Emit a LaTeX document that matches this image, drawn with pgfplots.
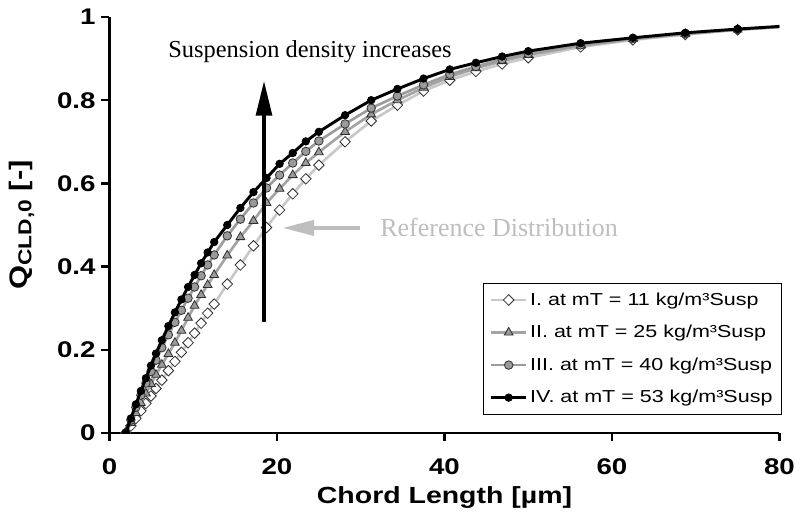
\documentclass[border=0pt]{standalone}
\usepackage{fontspec}
\setmainfont{Liberation Sans}
\newfontfamily\seriffont{Liberation Serif}
\newfontfamily\lblfont[FakeStretch=1.22]{Liberation Sans}
\newfontfamily\legfont[FakeStretch=1.24]{Liberation Sans}
\usepackage{pgfplots}
\usepackage{pgfplotstable}
\pgfplotsset{compat=1.18}
\usetikzlibrary{arrows.meta}

\definecolor{lineI}{HTML}{C8C8C8}
\definecolor{lineII}{HTML}{A4A4A4}
\definecolor{lineIII}{HTML}{9C9C9C}
\definecolor{markfill}{HTML}{9A9A9A}
\definecolor{markedge}{HTML}{303030}
\definecolor{refgray}{HTML}{BEBEBE}

\pgfplotstableread{
x      I      II     III    IV
1.95   0.000  0.000  0.000  0.000
2.55   0.017  0.024  0.031  0.035
3.15   0.035  0.048  0.062  0.069
3.75   0.053  0.072  0.091  0.101
4.35   0.071  0.095  0.120  0.132
4.95   0.089  0.118  0.148  0.162
5.55   0.107  0.140  0.175  0.191
6.25   0.127  0.164  0.205  0.223
7.03   0.150  0.190  0.236  0.257
7.81   0.172  0.217  0.266  0.290
8.59   0.194  0.246  0.295  0.321
9.38   0.217  0.277  0.324  0.351
10.16  0.240  0.306  0.351  0.380
10.94  0.264  0.332  0.378  0.408
11.72  0.288  0.356  0.404  0.434
12.50  0.310  0.380  0.428  0.459
14.06  0.358  0.427  0.474  0.500
15.63  0.404  0.471  0.514  0.541
17.19  0.450  0.510  0.553  0.579
18.75  0.494  0.553  0.589  0.613
20.31  0.536  0.587  0.620  0.647
21.88  0.575  0.620  0.649  0.673
23.44  0.611  0.649  0.677  0.701
25.00  0.644  0.675  0.702  0.724
28.13  0.700  0.724  0.743  0.764
31.25  0.750  0.766  0.781  0.800
34.38  0.788  0.800  0.810  0.827
37.50  0.822  0.830  0.837  0.852
40.63  0.848  0.856  0.862  0.874
43.75  0.869  0.877  0.881  0.890
46.88  0.887  0.894  0.898  0.905
50.00  0.902  0.909  0.912  0.918
56.25  0.928  0.931  0.933  0.937
62.50  0.945  0.947  0.948  0.950
68.75  0.958  0.959  0.960  0.962
75.00  0.969  0.970  0.970  0.971
81.25  0.977  0.978  0.978  0.979
}\datatable

\begin{document}
\begin{tikzpicture}
\useasboundingbox (-82.125pt,-61.5pt) rectangle (514.125pt,324.75pt);
\begin{axis}[
  at={(0,0)}, anchor=south west,
  scale only axis,
  width=502.5pt, height=312pt,
  xmin=0, xmax=80, ymin=0, ymax=1,
  axis lines*=left,
  axis line style={line width=1.9pt, -},
  xtick={0,20,40,60,80},
  ytick={0,0.2,0.4,0.6,0.8,1},
  xticklabels={0,20,40,60,80},
  yticklabels={0,0.2,0.4,0.6,0.8,1},
  tick align=outside,
  major tick length=6pt,
  tick style={line width=1.9pt, black},
  tick label style={font=\lblfont\bfseries\fontsize{17}{20}\selectfont},
  xticklabel style={yshift=-10pt},
  yticklabel style={xshift=-1pt},
  xlabel={Chord Length [µm]},
  ylabel={Q\raisebox{-0.3ex}{\fontsize{14}{15}\selectfont CLD,0} [-]},
  xlabel style={font=\lblfont\bfseries\fontsize{17.5}{20}\selectfont,
    at={(axis description cs:0.5,-0.154)}, anchor=center},
  ylabel style={font=\lblfont\bfseries\fontsize{19}{22}\selectfont,
    at={(axis description cs:-0.131,0.5)}, anchor=center},
  clip marker paths=true,
  legend cell align=left,
  legend image code/.code={\draw[mark repeat=2,mark phase=2]
      plot coordinates {(0pt,0pt) (13pt,0pt) (26pt,0pt)};},
  legend style={at={(0.557,0.361)}, anchor=north west, draw=black, line width=0.8pt,
    font=\legfont\fontsize{13}{15}\selectfont, row sep=9.5pt, inner sep=5pt},
]
\addplot[color=lineI, line width=2pt, mark=square*, mark size=2.8pt,
  mark options={rotate=45, fill=white, draw=markedge, line width=0.6pt}]
  table[x=x, y=I] {\datatable};
\addlegendentry{I. at mT = 11 kg/m³Susp}
\addplot[color=lineII, line width=2pt, mark=triangle*, mark size=3.8pt,
  mark options={fill=markfill, draw=markedge, line width=0.6pt}]
  table[x=x, y=II] {\datatable};
\addlegendentry{II. at mT = 25 kg/m³Susp}
\addplot[color=lineIII, line width=2pt, mark=*, mark size=3.2pt,
  mark options={fill=markfill, draw=markedge, line width=0.6pt}]
  table[x=x, y=III] {\datatable};
\addlegendentry{III. at mT = 40 kg/m³Susp}
\addplot[color=black, line width=2.2pt, mark=*, mark size=2.8pt,
  mark options={fill=black, draw=black, line width=0.6pt}]
  table[x=x, y=IV] {\datatable};
\addlegendentry{IV. at mT = 53 kg/m³Susp}

\draw[black, line width=2.3pt, -{Triangle[length=26pt,width=12pt]}]
  (axis cs:18.45,0.267) -- (axis cs:18.45,0.846);
\draw[refgray, line width=3.5pt, -{Triangle[length=24pt,width=11pt]}]
  (axis cs:29.9,0.493) -- (axis cs:20.6,0.493);
\node[font=\seriffont\fontsize{18.3}{21}\selectfont, anchor=west, inner sep=0pt]
  at (axis cs:7.0,0.916) {Suspension density increases};
\node[font=\seriffont\fontsize{19.5}{22}\selectfont, anchor=west, inner sep=0pt, text=refgray]
  at (axis cs:32.3,0.493) {Reference Distribution};
\end{axis}
\end{tikzpicture}
\end{document}
